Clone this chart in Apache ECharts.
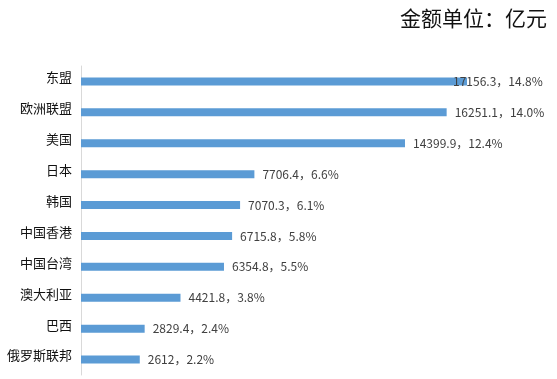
<!DOCTYPE html>
<html><head><meta charset="utf-8">
<script src="https://cdn.jsdelivr.net/npm/echarts@6/dist/echarts.min.js"></script>
<style>html,body{margin:0;padding:0;background:#fff}#c{width:557px;height:379px}</style>
</head><body><div id="c"></div>
<script>
var categories = ['东盟','欧洲联盟','美国','日本','韩国','中国香港','中国台湾','澳大利亚','巴西','俄罗斯联邦'];
var values = [17156.3,16251.1,14399.9,7706.4,7070.3,6715.8,6354.8,4421.8,2829.4,2612];
var shares = ['14.8%','14.0%','12.4%','6.6%','6.1%','5.8%','5.5%','3.8%','2.4%','2.2%'];
var valueText = ['17156.3','16251.1','14399.9','7706.4','7070.3','6715.8','6354.8','4421.8','2829.4','2612'];

var barData = values.map(function(v,i){
  var d = {value:v};
  if(i===0){ d.label = {offset:[-22,0]}; }
  return d;
});

var chart = echarts.init(document.getElementById('c'));
chart.setOption({
  animation:false,
  title:{text:'金额单位：亿元',right:5,top:3,textStyle:{fontSize:21,fontWeight:'normal',color:'#111',fontFamily:'Noto Sans CJK SC'}},
  grid:{left:81,right:26,top:66,height:309},
  xAxis:{type:'value',min:0,max:20000,show:false},
  yAxis:{type:'category',inverse:true,data:categories,
    axisLine:{show:true,lineStyle:{color:'#d9d9d9',width:1}},
    axisTick:{show:false},
    axisLabel:{margin:9,fontSize:13,color:'#111',fontFamily:'Noto Sans CJK SC',verticalAlign:'bottom',lineHeight:8}},
  series:[{type:'bar',data:barData,barWidth:8,itemStyle:{color:'#5b9bd5'},
    label:{show:true,position:'right',distance:8,fontSize:12,color:'#404040',fontFamily:'Noto Sans CJK SC',
      formatter:function(p){return valueText[p.dataIndex]+'，'+shares[p.dataIndex];}}}]
});
</script></body></html>
